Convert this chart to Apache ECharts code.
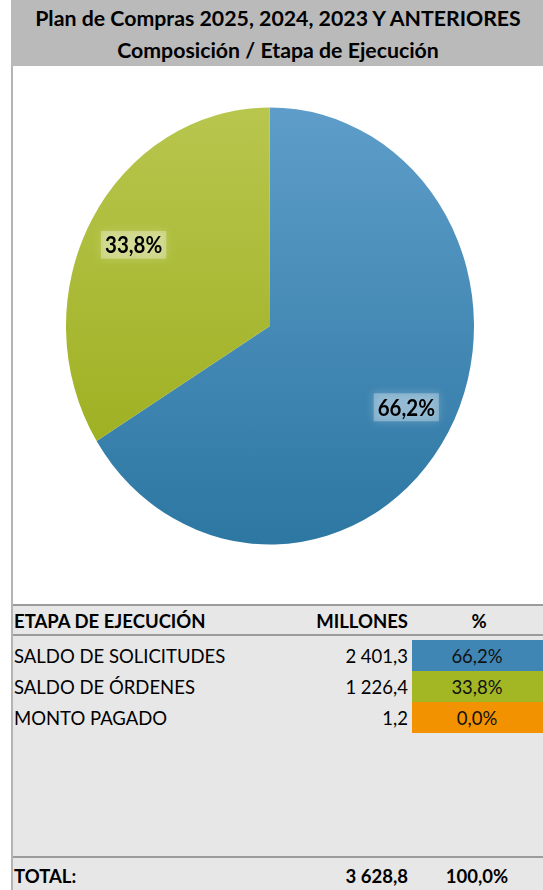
<!DOCTYPE html>
<html>
<head>
<meta charset="utf-8">
<script src="https://cdn.jsdelivr.net/npm/echarts@6/dist/echarts.min.js"></script>
<style>
  html, body { margin: 0; padding: 0; background: #fff; }
  #wrap { position: relative; width: 543px; height: 890px; overflow: hidden; }
  #main { position: absolute; left: 0; top: 0; width: 543px; height: 890px; }
  #pie { position: absolute; left: 0; top: 0; width: 543px; height: 890px;
         transform-origin: 270px 326px; transform: scaleY(1.071); }
</style>
</head>
<body>
<div id="wrap">
  <div id="main"></div>
  <div id="pie"></div>
</div>
<script>
// datos de la tabla
const titulo1 = 'Plan de Compras 2025, 2024, 2023 Y ANTERIORES';
const titulo2 = 'Composición / Etapa de Ejecución';
const etapas = ['SALDO DE SOLICITUDES', 'SALDO DE ÓRDENES', 'MONTO PAGADO'];
const millones = [2401.3, 1226.4, 1.2];
const colores = ['#3f86b5', '#a3b725', '#f39200'];
const totalMillones = 3628.8;
const totalPct = '100,0%';

const FONT = 'Lato';
const FS = 18.5;

const fmtNum = (v) => {
    let s = v.toFixed(1).split('.');
    let ent = s[0].replace(/\B(?=(\d{3})+(?!\d))/g, ' ');
    return ent + ',' + s[1];
}
let suma = millones.reduce((a, b) => a + b, 0);
const fmtPct = (v) => (v / suma * 100).toFixed(1).replace('.', ',') + '%';

// ---------- cuadro, titulo y tabla ----------
let main = echarts.init(document.getElementById('main'), null, { renderer: 'svg' });
let els = [];
// banda del titulo
els.push({ type: 'rect', shape: { x: 11, y: 0, width: 532, height: 66 }, style: { fill: '#bababa' } });
els.push({ type: 'text', x: 278, y: 18, style: { text: titulo1, font: 'bold 21.3px ' + FONT, fill: '#000', align: 'center', verticalAlign: 'middle' } });
els.push({ type: 'text', x: 278, y: 50, style: { text: titulo2, font: 'bold 21.3px ' + FONT, fill: '#000', align: 'center', verticalAlign: 'middle' } });
// borde izquierdo
els.push({ type: 'rect', shape: { x: 11, y: 66, width: 2, height: 824 }, style: { fill: '#b4b4b4' } });
// fondo tabla
els.push({ type: 'rect', shape: { x: 13, y: 604, width: 530, height: 286 }, style: { fill: '#e7e7e7' } });
[604, 634, 856].forEach(y => {
    els.push({ type: 'rect', shape: { x: 13, y: y, width: 530, height: 2 }, style: { fill: '#9c9c9c' } });
});
// encabezado
els.push({ type: 'text', x: 14, y: 621, style: { text: 'ETAPA DE EJECUCIÓN', font: 'bold ' + FS + 'px ' + FONT, fill: '#000', verticalAlign: 'middle' } });
els.push({ type: 'text', x: 408, y: 621, style: { text: 'MILLONES', font: 'bold ' + FS + 'px ' + FONT, fill: '#000', align: 'right', verticalAlign: 'middle' } });
els.push({ type: 'text', x: 479, y: 621, style: { text: '%', font: 'bold ' + FS + 'px ' + FONT, fill: '#000', align: 'center', verticalAlign: 'middle' } });
// filas
etapas.forEach((e, i) => {
    let y0 = 640 + i * 31;
    let yc = y0 + 16;
    els.push({ type: 'rect', shape: { x: 412, y: y0, width: 131, height: 31 }, style: { fill: colores[i] } });
    els.push({ type: 'text', x: 14, y: yc, style: { text: e, font: FS + 'px ' + FONT, fill: '#000', verticalAlign: 'middle' } });
    els.push({ type: 'text', x: 408, y: yc, style: { text: fmtNum(millones[i]), font: FS + 'px ' + FONT, fill: '#000', align: 'right', verticalAlign: 'middle' } });
    els.push({ type: 'text', x: 477, y: yc, style: { text: fmtPct(millones[i]), font: FS + 'px ' + FONT, fill: '#111', align: 'center', verticalAlign: 'middle' } });
});
// total
els.push({ type: 'text', x: 14, y: 876, style: { text: 'TOTAL:', font: 'bold ' + FS + 'px ' + FONT, fill: '#000', verticalAlign: 'middle' } });
els.push({ type: 'text', x: 408, y: 876, style: { text: fmtNum(totalMillones), font: 'bold ' + FS + 'px ' + FONT, fill: '#000', align: 'right', verticalAlign: 'middle' } });
els.push({ type: 'text', x: 477, y: 876, style: { text: totalPct, font: 'bold ' + FS + 'px ' + FONT, fill: '#000', align: 'center', verticalAlign: 'middle' } });

main.setOption({ animation: false, graphic: { elements: els } });

// ---------- torta ----------
let pie = echarts.init(document.getElementById('pie'), null, { renderer: 'svg' });
const CX = 270, CY = 326, R = 204;
const grad = (top, bottom) => new echarts.graphic.LinearGradient(0, CY - R, 0, CY + R, [
    { offset: 0, color: top }, { offset: 1, color: bottom }
], true);
const relleno = [grad('#5e9dc9', '#2d77a3'), grad('#b8c64e', '#98aa16'), '#f39200'];

pie.setOption({
    animation: false,
    backgroundColor: 'transparent',
    series: [{
        type: 'pie',
        center: [CX, CY],
        radius: [0, R],
        startAngle: 90,
        clockwise: true,
        silent: true,
        percentPrecision: 1,
        label: {
            show: true,
            position: 'inside',
            formatter: (p) => p.percent.toFixed(1).replace('.', ',') + '%',
            fontFamily: FONT,
            fontWeight: 'bold',
            fontSize: 20.5,
            color: '#000',
            backgroundColor: 'rgba(255,255,255,0.3)',
            padding: [3, 4, 2, 4],
            shadowColor: 'rgba(255,255,255,0.7)',
            shadowBlur: 8
        },
        labelLine: { show: false },
        labelLayout: (p) => {
            let r = p.labelRect;
            let lx = r.x + r.width / 2, ly = r.y + r.height / 2;
            let d = Math.sqrt((lx - CX) * (lx - CX) + (ly - CY) * (ly - CY)) || 1;
            let k = 156 / d;
            return { x: CX + (lx - CX) * k, y: CY + (ly - CY) * k };
        },
        data: etapas.map((e, i) => ({
            name: e,
            value: millones[i],
            itemStyle: { color: relleno[i] },
            label: { show: millones[i] / suma > 0.01 }
        }))
    }]
});
</script>
</body>
</html>
